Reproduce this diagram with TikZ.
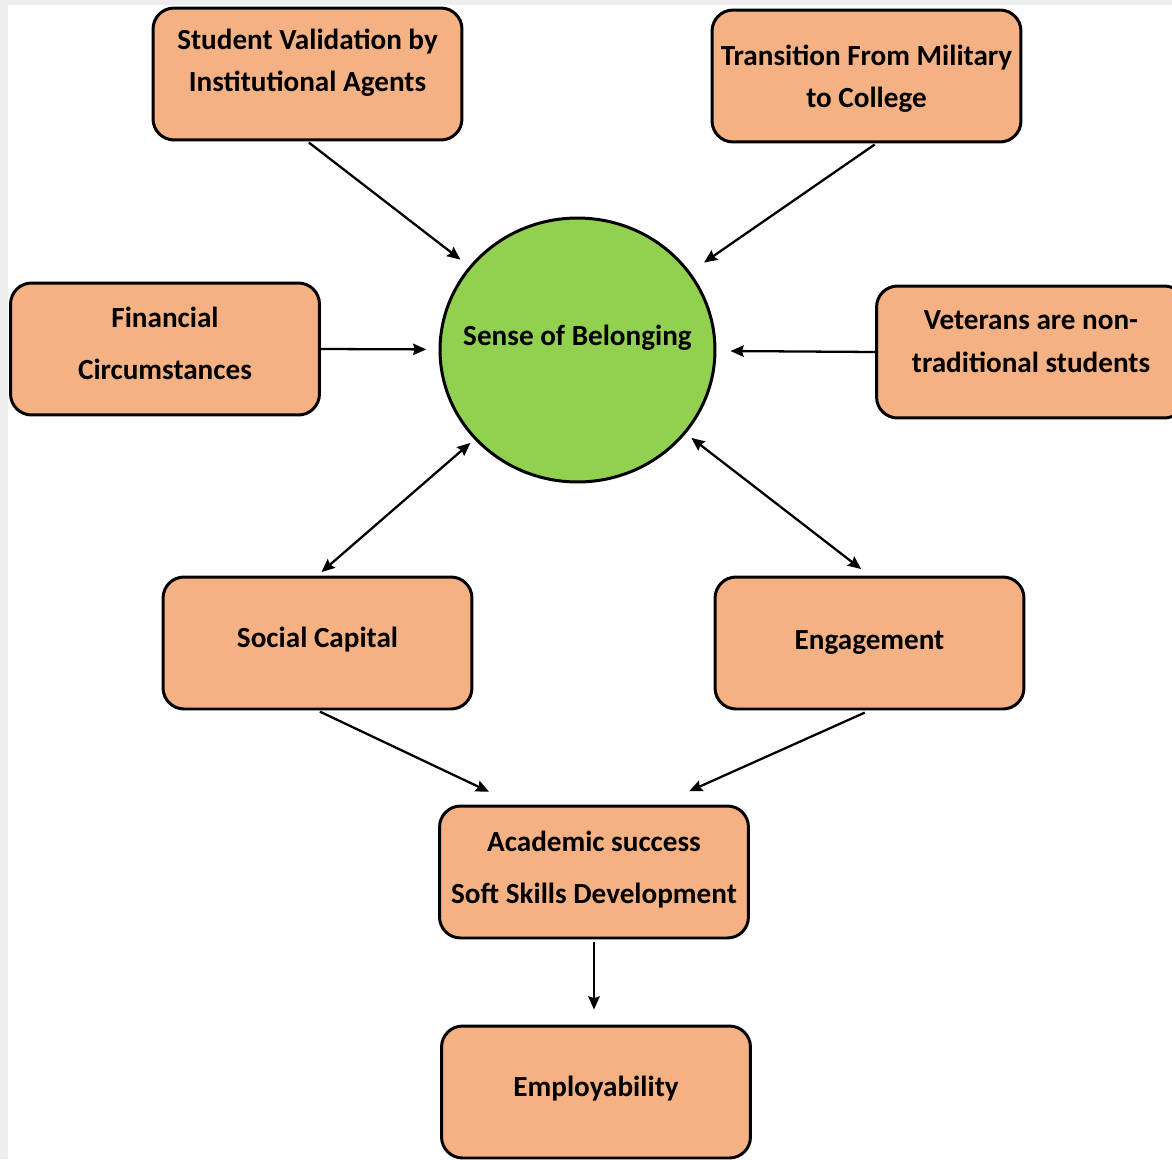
\documentclass[tikz,border=0pt]{standalone}
\usepackage{fontspec}
\setmainfont{Carlito}
\usepackage{xcolor}
\usetikzlibrary{positioning,arrows.meta,calc,shapes.geometric}
\definecolor{boxfill}{HTML}{F4B183}
\definecolor{hubfill}{HTML}{92D050}
\definecolor{rim}{HTML}{EEEEEE}

\begin{document}
\begin{tikzpicture}[
                x=0.02cm,y=-0.02cm,
                txt/.style={font=\fontsize{16.6}{24}\selectfont\bfseries},
                blk/.style={txt,draw=black,line width=1.7pt,fill=boxfill,rounded corners=12pt,
                    minimum width=6.18cm,minimum height=2.64cm,inner sep=2pt,align=center},
                hub/.style={ellipse,draw=black,line width=1.7pt,fill=hubfill,
                    minimum width=5.5cm,minimum height=5.28cm,inner sep=0pt}
            ]
                \fill[rim] (0,0) rectangle (1172,1159);
                \fill[white] (8,5) rectangle (1172,1159);
                \useasboundingbox (0,0) rectangle (1172,1159);

                \node[hub,label={[txt,yshift=7pt]center:Sense of Belonging}] (sob) at (577.5,350) {};

                \node[blk,text depth=16pt] (sv)   at (307.5,74)  {Student Validation by\\Institutional Agents};
                \node[blk,text depth=0pt]  (tm)   at (866.5,76)  {Transition From Military\\to College};
                \node[blk,text depth=7pt]  (fc)   at (165,349)   {Financial\\[5.5pt]Circumstances};
                \node[blk,text depth=12pt] (vt)   at (1031,352)  {Veterans are non-\\traditional students};
                \node[blk,text depth=6pt]  (sc)   at (317.5,643) {Social Capital};
                \node[blk]                 (eng)  at (869.5,643) {Engagement};
                \node[blk,text depth=5pt]  (acad) at (594,872)   {Academic success\\[5.5pt]Soft Skills Development};
                \node[blk,text depth=6pt]  (emp)  at (596,1092)  {Employability};

                \begin{scope}[line width=1.3pt,>={Stealth[length=7.5pt,width=6.5pt,inset=1pt]},->]
                    \draw[shorten <=1pt,shorten >=6.3pt] (sv.south) -- (sob);
                    \draw[shorten <=1pt,shorten >=9.5pt] ([xshift=5.5pt]tm.south) -- (sob);
                    \draw[shorten >=7pt] (fc.east) -- (sob);
                    \draw[shorten >=8pt] (vt.west) -- (sob);
                    \draw[<->,shorten <=3pt,shorten >=3pt] (sob) -- (sc.north);
                    \draw[<->,shorten <=4pt,shorten >=6pt] (sob) -- (eng.north);
                    \draw[shorten <=1.5pt,shorten >=17pt] (sc.south) -- ($(acad.north west)!0.25!(acad.north east)$);
                    \draw[shorten <=3pt,shorten >=18.5pt] (eng.south) -- ($(acad.north west)!0.71!(acad.north east)$);
                    \draw[shorten <=1.5pt,shorten >=8.5pt] (acad.south) -- (acad.south |- emp.north);
                \end{scope}
            \end{tikzpicture}
\end{document}
